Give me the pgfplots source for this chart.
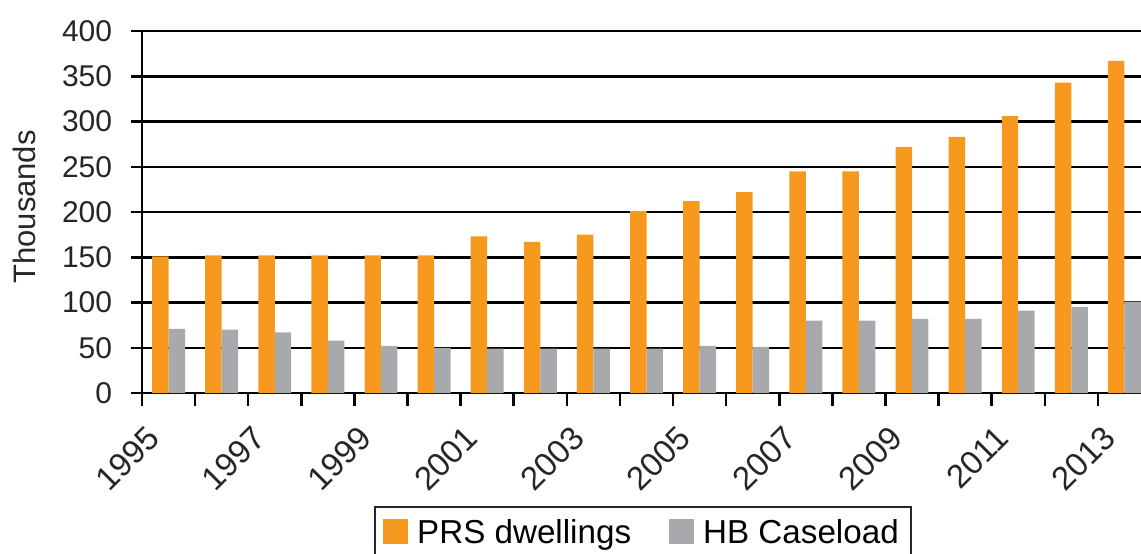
\documentclass[border=0pt]{standalone}
\usepackage{fontspec}
\setmainfont{Liberation Sans}
\usepackage{pgfplots}
\pgfplotsset{compat=1.18}
\definecolor{prs}{HTML}{F7991F}
\definecolor{hb}{HTML}{A7A9AC}
\begin{document}
\begin{tikzpicture}
\path[use as bounding box] (-71pt,-80pt) rectangle (499.5pt,196.5pt);
\clip (-71pt,-80pt) rectangle (499.5pt,196.5pt);
\begin{axis}[
  at={(0pt,0pt)}, anchor=south west,
  scale only axis, width=504.5pt, height=181pt,
  xmin=0, xmax=19, ymin=0, ymax=400,
  axis x line*=bottom, axis y line*=left,
  axis line style={line width=1.25pt, -},
  ytick={0,50,...,400},
  ymajorgrids, grid style={black, line width=1.25pt},
  xtick={0,...,19},
  xticklabels={1995,,1997,,1999,,2001,,2003,,2005,,2007,,2009,,2011,,2013,},
  /pgf/number format/assume math mode=true,
  tick align=outside,
  xtick style={black, line width=1.25pt, /pgfplots/major tick length=6.5pt},
  ytick style={black, line width=1.25pt, /pgfplots/major tick length=5.5pt},
  ticklabel style={font=\fontsize{15}{18}\selectfont, text=black!85},
  xticklabel style={font=\fontsize{16.5}{19}\selectfont, xshift=1.5pt, yshift=-11pt, rotate=45, anchor=north east, inner sep=0pt},
  yticklabel style={inner sep=0pt, xshift=-10.5pt},
  ylabel={Thousands},
  ylabel style={font=\fontsize{15.5}{18}\selectfont, text=black!85, at={(axis description cs:-0.117,0.514)}, anchor=center},
  ybar, bar width=0.31,
  legend columns=2,
  legend style={at={(axis description cs:0.4965,-0.312)}, anchor=north,
    draw=black!85, line width=1pt, font=\fontsize{16.6}{20}\selectfont,
    /tikz/every even column/.append style={column sep=17pt},
    /tikz/every odd column/.append style={column sep=2.5pt},
    inner sep=4pt},
  legend image code/.code={\fill[#1] (0pt,-6pt) rectangle (12.5pt,6.5pt);},
]
\addplot[fill=prs, draw=none, bar shift=-0.155] coordinates {
(0.5,151) (1.5,152) (2.5,152) (3.5,152) (4.5,152) (5.5,152) (6.5,173) (7.5,167) (8.5,175) (9.5,201)
(10.5,212) (11.5,222) (12.5,245) (13.5,245) (14.5,272) (15.5,283) (16.5,306) (17.5,343) (18.5,367)};
\addplot[fill=hb, draw=none, bar shift=0.155] coordinates {
(0.5,71) (1.5,70) (2.5,67) (3.5,58) (4.5,52) (5.5,50) (6.5,49) (7.5,49) (8.5,49) (9.5,49)
(10.5,52) (11.5,51) (12.5,80) (13.5,80) (14.5,82) (15.5,82) (16.5,91) (17.5,95) (18.5,101)};
\legend{PRS dwellings, HB Caseload}
\end{axis}
\end{tikzpicture}
\end{document}
